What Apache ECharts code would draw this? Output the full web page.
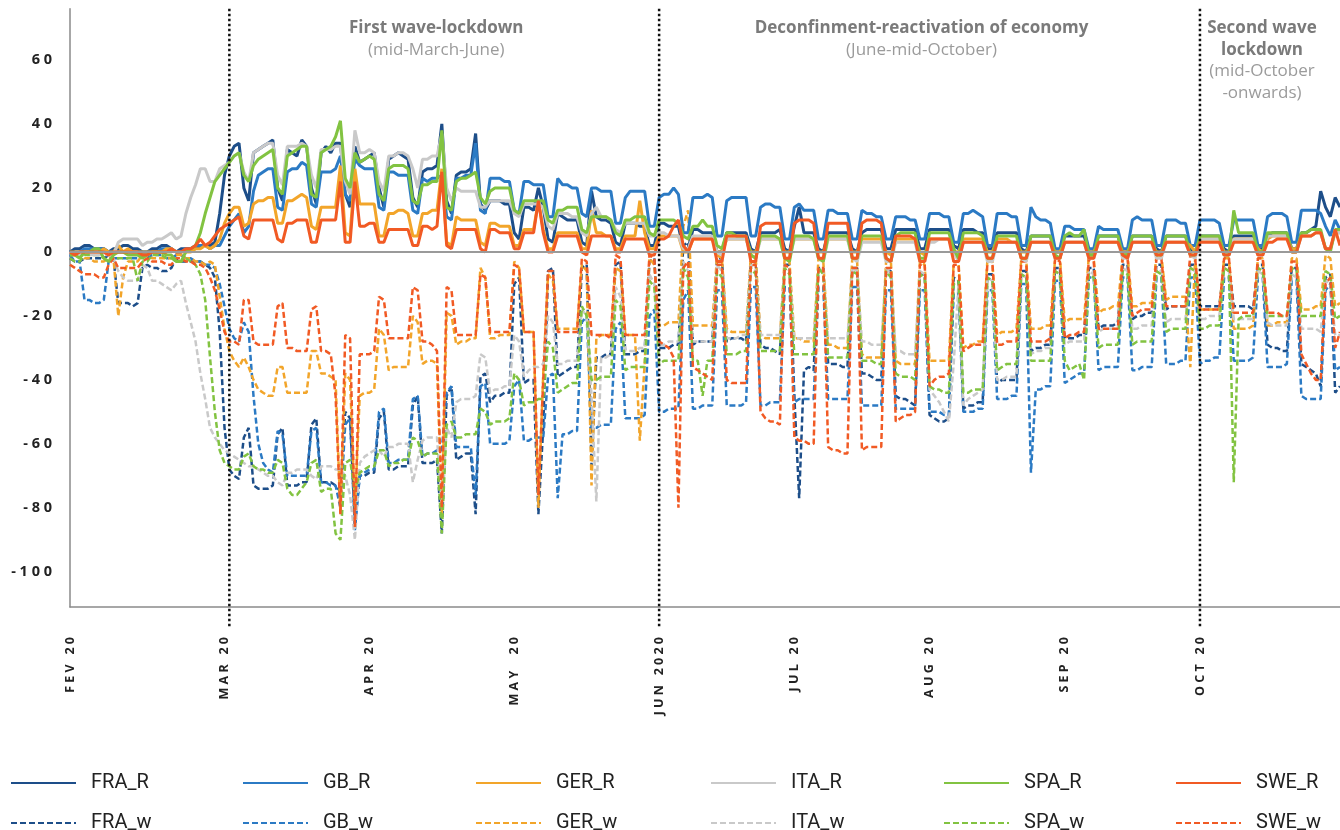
<!DOCTYPE html>
<html><head><meta charset="utf-8">
<script src="https://cdn.jsdelivr.net/npm/echarts@6/dist/echarts.min.js"></script>
<style>html,body{margin:0;padding:0;background:#fff}#c{width:1340px;height:830px}</style>
</head><body><div id="c"></div>
<script>
// ---------------- DATA ----------------
const START_DATE = '2020-02-14';

const FRA_R = [0,1,1,
2,2,1,1,1,0,1, 1,2,2,1,1,0,0, 1,1,2,2,1,0,1, 1,1,1,2,2,2,3,
12,24,30,33,34,20,16, 31,32,33,34,35,20,16, 32,31,30,35,33,20,15, 31,33,31,34,34,18,14,
33,28,29,30,31,20,14, 29,30,31,30,29,17,14, 25,26,26,27,40,16,12, 24,25,25,26,37,15,13,
16,16,16,15,15,6,4, 14,14,13,20,14,4,3, 12,11,10,10,10,3,2, 19,11,10,10,9,3,2,
9,9,9,8,8,2,2, 9,9,8,8,8,1,1, 7,7,6,6,6,0,0, 6,6,6,6,6,1,0,
6,6,6,6,7,1,0, 8,14,6,6,6,1,0, 6,6,6,6,6,1,0, 6,7,7,7,7,1,1,
7,7,7,7,7,1,1, 7,7,7,7,7,2,1, 7,7,7,6,6,1,1, 6,6,6,6,6,1,0,
5,5,5,5,5,0,0, 5,5,5,5,5,0,0, 5,5,5,5,5,0,0, 5,5,5,5,5,1,0,
5,5,5,5,5,1,0, 5,5,5,5,5,1,0, 5,5,5,5,5,1,1, 5,6,6,6,6,1,1,
6,6,7,8,19,14,11,
17,14];

const GB_R = [-1,0,0,
1,1,1,1,1,0,0, 0,0,0,0,0,0,0, 0,0,1,1,1,0,0, 1,1,2,2,2,1,2,
2,5,8,10,12,6,8, 19,24,25,26,26,14,13, 25,26,26,28,27,15,14, 25,25,25,26,30,18,16,
29,27,26,26,26,14,13, 25,25,24,24,24,13,12, 23,22,23,23,24,11,10, 23,23,24,24,34,13,12,
23,23,23,22,22,13,12, 22,22,21,21,21,11,11, 23,21,21,20,20,12,11, 20,20,19,19,19,9,9,
17,19,19,19,19,8,8, 17,18,18,20,18,6,6, 17,17,17,18,17,5,5, 16,17,17,17,17,5,5,
14,15,15,14,14,4,4, 14,15,13,13,13,4,4, 13,13,12,12,12,4,4, 13,12,12,11,11,4,4,
11,11,11,10,10,4,4, 12,12,12,11,11,3,3, 12,12,13,12,11,2,2, 12,12,12,11,11,2,2,
14,11,10,10,9,1,1, 8,8,7,7,7,1,1, 8,7,7,7,7,1,1, 10,11,10,10,10,2,2,
10,10,10,9,9,2,2, 10,10,10,10,9,2,2, 10,10,10,10,10,2,2, 11,12,12,12,11,3,3,
13,13,13,13,12,8,5,
10,7];

const GER_R = [0,0,0,
0,0,0,0,1,0,0, 2,0,1,0,0,0,0, 0,0,0,1,1,0,0, 0,0,1,1,2,1,2,
4,9,12,14,14,8,9, 15,16,16,17,17,9,9, 16,16,17,18,17,8,7, 14,14,14,14,27,6,5,
26,15,15,15,15,5,5, 12,12,13,13,12,5,5, 12,12,13,13,26,3,2, 11,10,10,10,10,3,2,
9,9,8,8,8,2,2, 7,7,7,16,7,1,1, 6,6,6,6,6,1,1, 13,6,6,5,5,1,1,
5,5,5,16,6,1,1, 5,5,5,5,5,0,0, 4,4,4,4,4,0,0, 4,4,4,4,4,0,0,
4,4,4,4,4,0,0, 4,4,4,4,4,0,0, 4,4,4,4,4,0,0, 4,4,4,4,4,0,-1,
4,4,4,4,4,0,-1, 4,4,4,4,4,0,0, 4,4,4,4,4,0,0, 4,4,4,3,3,0,0,
3,3,3,3,3,0,0, 3,3,3,3,3,0,0, 3,3,3,3,3,0,0, 3,3,3,3,3,0,0,
3,3,3,3,3,2,0, 4,4,4,4,4,0,0, 4,4,4,4,4,1,0, 4,5,5,5,5,1,1,
5,5,5,6,6,1,1,
6,6];

const ITA_R = [0,-1,-1,
0,0,-1,-1,0,-1,-1, 3,4,4,4,4,2,3, 3,4,4,5,6,4,5, 12,17,21,26,26,22,22,
26,27,28,30,31,25,22, 31,32,33,34,34,24,21, 33,33,33,34,33,24,20, 32,32,32,33,33,22,18,
38,31,31,32,31,22,19, 30,30,31,31,30,26,20, 29,29,30,30,37,20,16, 20,19,19,19,19,14,14,
16,16,16,16,16,12,11, 15,15,15,15,14,8,7, 12,12,12,11,11,6,5, 12,14,11,11,10,7,6,
9,9,9,9,9,5,5, 6,6,5,5,5,1,1, 5,5,5,5,5,0,-1, 4,4,4,4,4,-1,-2,
4,4,4,4,4,-2,-2, 4,4,4,4,4,-2,-3, 4,4,4,4,4,-2,-3, 3,3,3,3,3,-3,-3,
3,3,3,3,3,-3,-3, 3,3,4,4,4,0,-3, 3,3,3,3,3,-3,-3, 3,3,3,3,3,-2,-3,
3,3,3,3,3,-2,-2, 3,3,3,3,3,-2,-2, 3,3,3,3,3,-2,-2, 3,3,3,3,3,-2,-2,
3,3,3,3,3,-1,-2, 4,4,4,4,4,-1,-1, 4,4,4,4,4,-1,-1, 5,5,5,5,5,0,0,
5,5,5,6,6,1,1,
6,6];

const SPA_R = [-1,-1,-2,
0,0,1,1,-2,-3,-1, 0,0,-1,-1,-1,-2,-1, 0,0,0,-1,-1,-3,-3, 0,1,2,6,12,17,22,
24,26,28,30,31,24,22, 27,29,30,31,32,20,18, 30,31,32,33,33,18,17, 31,32,33,36,41,23,20,
31,28,29,30,29,18,16, 26,27,27,27,26,16,15, 21,21,22,22,38,14,13, 22,23,23,24,25,17,15,
19,20,20,20,20,13,12, 16,16,16,16,16,10,9, 13,13,14,14,14,7,6, 11,11,11,11,10,6,5,
10,10,11,11,11,6,5, 10,10,10,10,9,5,4, 8,8,10,8,8,2,1, 6,6,5,5,5,-1,-2,
5,5,5,5,4,-2,-3, 5,5,5,5,4,-2,-3, 5,5,5,5,5,-2,-2, 5,5,5,5,5,-2,-3,
5,6,6,6,6,-2,-2, 6,6,6,6,6,1,-2, 6,6,6,6,5,-2,-2, 5,5,5,5,5,-2,-2,
5,5,5,5,5,-1,-2, 5,6,5,5,7,-1,-1, 5,5,5,5,5,-1,-1, 5,5,5,5,5,-1,-1,
5,5,5,5,5,-1,-1, 5,5,5,5,5,-1,-1, 13,6,6,6,6,0,0, 6,6,6,6,6,0,0,
6,6,7,7,7,1,0,
7,7];

const SWE_R = [0,-1,0,
0,0,0,0,0,-1,0, 0,0,0,0,0,-1,-1, 0,0,0,0,1,0,0, 1,1,2,4,2,3,5,
7,8,9,10,11,5,4, 10,10,10,10,10,4,3, 9,9,10,10,10,3,3, 10,10,10,10,22,3,3,
22,8,8,9,9,3,3, 7,7,7,7,7,2,2, 8,8,7,8,25,2,1, 7,7,7,7,7,1,0,
7,7,6,6,6,1,1, 6,6,6,16,6,0,0, 5,5,5,5,5,0,-1, 5,5,5,5,5,0,0,
4,4,4,4,4,-1,-1, 4,4,5,8,10,2,0, 4,4,4,4,4,-3,-3, 5,5,5,5,5,-3,-3,
8,9,9,9,9,-2,-2, 9,10,10,10,9,-2,-2, 9,9,9,9,9,-2,-2, 9,10,10,10,9,-2,-3,
5,5,5,5,4,-3,-3, 4,4,4,4,4,-3,-3, 3,3,3,3,3,-2,-2, 3,3,3,3,3,-2,-2,
3,3,3,3,3,-2,-2, 3,3,3,3,3,-2,-2, 3,3,3,3,3,-1,-2, 3,3,3,3,3,-1,-1,
3,3,3,3,3,-1,-1, 3,3,3,3,3,-1,-1, 3,3,3,3,3,-1,-1, 3,3,4,4,4,0,0,
5,5,5,6,6,1,1,
7,2];

const FRA_w = [-2,-3,-3,
-2,-2,-2,-2,-2,-1,-2, -16,-16,-16,-17,-16,-5,-4, -5,-5,-6,-6,-5,-2,-3, -3,-3,-3,-3,-4,-5,-8,
-25,-55,-68,-70,-71,-58,-55, -73,-74,-74,-74,-73,-57,-55, -73,-73,-73,-72,-72,-54,-52, -72,-72,-72,-73,-75,-50,-52,
-85,-70,-70,-69,-69,-52,-50, -68,-68,-67,-67,-67,-48,-45, -66,-66,-66,-65,-88,-45,-42, -65,-64,-63,-63,-82,-39,-38,
-47,-45,-45,-44,-44,-10,-8, -41,-40,-40,-82,-55,-6,-5, -39,-38,-37,-36,-36,-5,-4, -67,-33,-33,-32,-32,-4,-3,
-32,-32,-32,-31,-31,-3,-2, -30,-30,-30,-29,-29,2,3, -29,-28,-28,-28,-28,-2,-2, -28,-27,-27,-27,-28,-3,-3,
-29,-30,-30,-31,-32,-4,-4, -45,-77,-37,-36,-37,-5,-5, -35,-35,-35,-36,-36,-5,-5, -38,-38,-39,-40,-40,-6,-6,
-45,-46,-46,-47,-48,-7,-7, -51,-52,-53,-53,-52,-8,-9, -49,-48,-48,-47,-47,-7,-7, -41,-40,-40,-40,-40,-6,-6,
-31,-30,-30,-29,-29,-5,-5, -27,-27,-27,-26,-26,-5,-5, -24,-23,-23,-23,-22,-4,-4, -21,-20,-20,-19,-19,-4,-4,
-18,-17,-17,-17,-17,-4,-4, -17,-17,-17,-17,-17,-4,-4, -17,-17,-17,-17,-18,-4,-4, -29,-30,-30,-31,-31,-5,-5,
-35,-36,-37,-38,-42,-8,-7,
-44,-42];

const GB_w = [-1,-3,-3,
-15,-15,-16,-16,-15,-3,-2, -2,-2,-2,-2,-2,-1,-2, -1,-1,-1,-2,-2,-1,-1, -2,-2,-3,-3,-4,-4,-5,
-10,-17,-24,-27,-28,-22,-25, -45,-60,-66,-68,-69,-56,-57, -70,-70,-70,-70,-70,-56,-55, -72,-72,-73,-73,-80,-54,-52,
-87,-70,-69,-68,-68,-50,-49, -66,-66,-65,-65,-65,-46,-45, -64,-63,-63,-62,-62,-44,-42, -61,-61,-61,-61,-76,-42,-41,
-60,-60,-60,-60,-59,-42,-40, -59,-59,-58,-58,-58,-39,-38, -77,-57,-57,-56,-56,-22,-20, -55,-55,-54,-54,-54,-24,-22,
-52,-52,-52,-52,-51,-20,-18, -50,-50,-49,-49,-49,-15,-12, -49,-49,-48,-48,-48,-12,-12, -48,-48,-48,-48,-47,-11,-11,
-48,-48,-47,-47,-47,-11,-11, -47,-46,-46,-46,-46,-11,-11, -46,-46,-46,-46,-46,-11,-11, -48,-48,-48,-48,-48,-12,-12,
-49,-49,-49,-49,-49,-12,-12, -50,-50,-50,-51,-51,-13,-13, -50,-50,-50,-49,-49,-12,-12, -46,-46,-46,-45,-45,-10,-10,
-69,-43,-43,-42,-42,-9,-9, -41,-40,-39,-38,-38,-8,-8, -37,-36,-36,-36,-36,-8,-8, -37,-37,-36,-36,-36,-8,-8,
-35,-35,-35,-34,-34,-8,-8, -35,-34,-34,-33,-33,-8,-8, -34,-34,-34,-34,-33,-8,-8, -36,-36,-36,-36,-35,-9,-9,
-45,-46,-46,-46,-46,-12,-10,
-37,-36];

const GER_w = [-1,-1,0,
-2,-2,-3,-3,-3,-2,-2, -20,-8,-3,-3,-3,-1,-1, -2,-2,-2,-2,-2,-1,-1, -2,-2,-3,-3,-4,-3,-4,
-14,-24,-31,-34,-36,-33,-36, -40,-43,-44,-45,-45,-36,-36, -44,-44,-44,-44,-44,-31,-31, -38,-38,-39,-40,-82,-38,-40,
-80,-45,-44,-44,-43,-24,-26, -37,-36,-36,-36,-36,-20,-22, -35,-34,-34,-35,-82,-19,-20, -29,-28,-28,-27,-27,-5,-8,
-27,-27,-26,-26,-26,-3,-5, -25,-25,-25,-80,-38,-7,-9, -24,-24,-24,-24,-24,-4,-6, -73,-27,-26,-26,-26,-5,-6,
-26,-26,-26,-59,-35,-2,-4, -23,-23,-22,-22,-22,8,13, -23,-23,-23,-23,-23,-1,-2, -24,-25,-25,-25,-25,-1,-2,
-26,-27,-27,-27,-27,-2,-3, -27,-27,-28,-28,-28,-2,-3, -29,-29,-30,-30,-30,-2,-3, -32,-33,-33,-33,-33,-3,-3,
-34,-35,-35,-35,-35,-3,-4, -34,-34,-34,-34,-34,-3,-3, -30,-29,-29,-28,-28,-2,-3, -26,-25,-25,-25,-24,-2,-2,
-24,-24,-24,-23,-23,-2,-2, -22,-21,-21,-21,-21,-1,-2, -19,-18,-18,-17,-17,-1,-1, -17,-17,-16,-16,-16,-1,-1,
-15,-14,-14,-14,-14,-36,-2, -18,-18,-18,-18,-18,-2,-2, -24,-24,-24,-24,-23,-2,-2, -23,-23,-22,-22,-22,-2,-2,
-18,-18,-18,-17,-17,-1,-2,
-17,-16];

const ITA_w = [0,-1,-1,
-1,-1,-1,-1,-1,-1,-2, -6,-8,-9,-9,-9,-4,-5, -9,-9,-10,-11,-12,-10,-9, -16,-22,-28,-38,-46,-55,-58,
-60,-62,-63,-64,-65,-66,-67, -67,-68,-69,-70,-70,-72,-73, -69,-69,-68,-68,-68,-70,-71, -67,-67,-67,-68,-68,-70,-76,
-90,-66,-64,-63,-62,-62,-64, -61,-61,-60,-60,-60,-72,-65, -59,-58,-58,-58,-80,-55,-58, -47,-46,-46,-46,-45,-32,-33,
-44,-43,-43,-42,-42,-26,-28, -39,-37,-36,-36,-35,-20,-22, -35,-35,-34,-34,-34,-18,-20, -45,-78,-33,-33,-32,-11,-14,
-31,-31,-31,-30,-30,-7,-10, -29,-29,-28,-28,-28,-3,-6, -28,-28,-28,-28,-28,-4,-6, -27,-27,-27,-26,-26,-4,-6,
-26,-26,-26,-26,-26,-4,-6, -27,-27,-27,-27,-27,-5,-6, -27,-27,-27,-27,-27,-5,-6, -28,-28,-29,-29,-29,-5,-7,
-31,-31,-32,-32,-32,-6,-7, -43,-45,-47,-50,-53,-35,-10, -48,-46,-45,-44,-43,-8,-9, -40,-40,-39,-39,-39,-7,-8,
-32,-31,-31,-30,-30,-6,-7, -29,-28,-28,-28,-28,-6,-7, -25,-24,-24,-24,-24,-5,-6, -24,-24,-23,-23,-23,-5,-6,
-22,-21,-21,-21,-21,-5,-6, -21,-21,-20,-20,-20,-5,-6, -21,-21,-21,-21,-21,-6,-7, -22,-23,-23,-23,-23,-7,-8,
-24,-24,-24,-24,-25,-9,-10,
-26,-26];

const SPA_w = [-2,-3,-3,
-1,-1,-1,-1,-2,-3,-2, -2,-2,-2,-2,-9,-3,-3, -1,-1,-1,-2,-2,-3,-3, -2,-3,-4,-7,-15,-33,-50,
-62,-66,-67,-68,-68,-64,-63, -67,-68,-68,-69,-69,-65,-66, -74,-76,-76,-74,-72,-66,-65, -75,-74,-74,-88,-90,-66,-65,
-75,-69,-68,-67,-67,-62,-62, -67,-66,-66,-65,-65,-58,-59, -64,-63,-63,-63,-88,-54,-53, -58,-58,-57,-57,-57,-49,-50,
-54,-53,-53,-53,-52,-38,-40, -48,-47,-47,-46,-46,-28,-30, -44,-43,-42,-41,-41,-17,-20, -40,-40,-39,-39,-39,-15,-17,
-37,-36,-36,-36,-36,-9,-11, -35,-34,-34,-34,-34,-5,-8, -34,-34,-45,-34,-34,-6,-8, -32,-32,-32,-31,-31,-5,-7,
-31,-31,-31,-31,-31,-5,-7, -32,-32,-32,-32,-32,-5,-7, -33,-33,-33,-33,-33,-6,-7, -34,-34,-34,-35,-35,-6,-8,
-38,-39,-39,-39,-40,-7,-8, -42,-43,-43,-44,-44,-10,-9, -44,-44,-43,-43,-43,-8,-9, -37,-36,-35,-35,-35,-7,-8,
-34,-34,-34,-34,-34,-6,-7, -34,-37,-36,-35,-40,-7,-8, -30,-29,-29,-29,-29,-6,-7, -29,-28,-28,-28,-28,-6,-7,
-25,-24,-24,-24,-24,-5,-6, -24,-24,-23,-23,-23,-5,-6, -72,-21,-20,-20,-20,-5,-6, -20,-20,-20,-20,-20,-5,-6,
-20,-20,-20,-20,-20,-6,-7,
-21,-20];

const SWE_w = [-4,-5,-6,
-7,-7,-7,-8,-8,-4,-2, -5,-5,-5,-5,-5,-3,-2, -3,-3,-3,-4,-4,-2,-2, -3,-3,-4,-4,-5,-8,-12,
-18,-25,-28,-28,-29,-15,-15, -28,-29,-29,-29,-29,-17,-16, -30,-30,-31,-31,-31,-18,-17, -31,-31,-32,-45,-82,-26,-27,
-86,-32,-32,-32,-31,-14,-15, -27,-27,-27,-27,-27,-11,-12, -28,-28,-29,-31,-80,-11,-12, -26,-26,-26,-26,-26,-7,-8,
-25,-25,-25,-25,-25,-4,-5, -25,-25,-25,-76,-40,-6,-6, -25,-25,-25,-25,-25,-2,-3, -26,-26,-26,-26,-27,-1,-2,
-26,-26,-26,-26,-26,-1,-2, -28,-29,-30,-33,-80,-5,-3, -36,-37,-38,-39,-40,-4,-4, -40,-41,-41,-41,-41,-4,-4,
-50,-52,-53,-53,-54,-4,-5, -58,-59,-59,-60,-60,-5,-5, -61,-62,-62,-63,-63,-5,-5, -62,-61,-61,-61,-61,-5,-5,
-53,-52,-51,-51,-50,-4,-4, -42,-40,-39,-39,-38,-4,-4, -31,-30,-29,-29,-29,-3,-3, -29,-29,-28,-28,-28,-3,-3,
-28,-28,-28,-28,-27,-2,-3, -27,-26,-26,-25,-25,-2,-3, -24,-24,-24,-24,-24,-2,-2, -20,-19,-18,-18,-18,-2,-2,
-17,-17,-17,-17,-17,-1,-2, -18,-18,-18,-18,-18,-2,-2, -19,-19,-19,-19,-19,-2,-2, -19,-19,-19,-20,-20,-3,-3,
-32,-35,-38,-40,-40,-10,-8,
-30,-25];

const TICK_DATES = ['2020-02-14','2020-03-17','2020-04-16','2020-05-16','2020-06-15','2020-07-13','2020-08-10','2020-09-07','2020-10-05'];
const TICK_TEXT  = ['FEV 20','MAR 20','APR 20','MAY  20','JUN 2020','JUL 20','AUG 20','SEP 20','OCT 20'];
const Y_LABELS   = [60, 40, 20, 0, -20, -40, -60, -80, -100];
const EVENT_DATES = ['2020-03-18','2020-06-15','2020-10-05'];
const PERIOD_TITLES = [['First wave-lockdown'], ['Deconfinment-reactivation of economy'], ['Second wave', 'lockdown']];
const PERIOD_NOTES  = [['(mid-March-June)'], ['(June-mid-October)'], ['(mid-October', '-onwards)']];

// ---------------- BUILD ----------------
const COUNTRIES = [
  {name: 'FRA', color: '#1d4e89', R: FRA_R, w: FRA_w},
  {name: 'GB',  color: '#2b7ac4', R: GB_R,  w: GB_w},
  {name: 'GER', color: '#f2a52a', R: GER_R, w: GER_w},
  {name: 'ITA', color: '#c9c9c9', R: ITA_R, w: ITA_w},
  {name: 'SPA', color: '#82c341', R: SPA_R, w: SPA_w},
  {name: 'SWE', color: '#f15a24', R: SWE_R, w: SWE_w}
];
const N = FRA_R.length;
COUNTRIES.forEach(c => {
  if (c.R.length !== N || c.w.length !== N) throw new Error('length mismatch ' + c.name + ' ' + c.R.length + ' ' + c.w.length);
});
const startMs = Date.parse(START_DATE + 'T00:00:00Z');
const categories = [];
for (let i = 0; i < N; i++) categories.push(new Date(startMs + i * 86400000).toISOString().slice(0, 10));

const spaced = s => s.split('').join(' ');
const FONT = 'Open Sans';

const series = [];
COUNTRIES.forEach((c, i) => {
  series.push({
    type: 'line', name: c.name + '_w', data: c.w, symbol: 'none', z: 2,
    lineStyle: {color: c.color, width: 2.5, type: [6, 3]},
    itemStyle: {color: c.color},
    emphasis: {disabled: true},
    markLine: i === 0 ? {
      silent: true, symbol: ['none', 'none'], label: {show: false},
      lineStyle: {color: '#9a9a9a', width: 2, type: 'solid'},
      data: [{yAxis: 0}], animation: false
    } : undefined
  });
});
COUNTRIES.forEach(c => {
  series.push({
    type: 'line', name: c.name + '_R', data: c.R, symbol: 'none', z: 3,
    lineStyle: {color: c.color, width: 3, type: 'solid'},
    itemStyle: {color: c.color},
    emphasis: {disabled: true}
  });
});

const LEG_LEFT = [10, 242, 475, 710, 943, 1175];
const legends = COUNTRIES.map((c, i) => ({
  data: [c.name + '_R', c.name + '_w'],
  orient: 'vertical', left: LEG_LEFT[i], top: 773, height: 90, width: 200, padding: 0,
  itemWidth: 65, itemHeight: 14, itemGap: 20, selectedMode: false,
  itemStyle: {color: 'transparent', borderWidth: 0, borderColor: 'transparent'},
  textStyle: {fontSize: 20, color: '#222', fontFamily: 'Roboto', padding: [0, 0, 0, 10], lineHeight: 20}
}));

const option = {
  animation: false,
  backgroundColor: '#ffffff',
  grid: {left: 70, right: 0, top: 8.8, bottom: 223, containLabel: false},
  legend: legends,
  xAxis: {
    type: 'category', data: categories, boundaryGap: false,
    axisLine: {onZero: false, lineStyle: {color: '#8a8a8a', width: 1.5}},
    axisTick: {show: false}, splitLine: {show: false},
    axisLabel: {
      interval: (idx, val) => TICK_DATES.indexOf(val) >= 0,
      formatter: val => { const k = TICK_DATES.indexOf(val); return k < 0 ? '' : spaced(TICK_TEXT[k]); },
      rotate: 90, margin: 30, fontFamily: FONT, fontWeight: 'bold', fontSize: 12.5, color: '#222'
    }
  },
  yAxis: {
    type: 'value', min: -111, max: 76, interval: 1,
    axisLine: {show: true, lineStyle: {color: '#8a8a8a', width: 1.5}},
    axisTick: {show: false}, splitLine: {show: false},
    axisLabel: {
      formatter: v => Y_LABELS.indexOf(v) >= 0 ? spaced(String(v)) : '',
      fontFamily: FONT, fontWeight: 'bold', fontSize: 14.5, color: '#222', margin: 18
    }
  },
  series: series
};

const chart = echarts.init(document.getElementById('c'), null, {renderer: 'canvas'});
chart.setOption(option);

// annotations positioned through the axes
const xs = EVENT_DATES.map(d => chart.convertToPixel({xAxisIndex: 0}, d));
const xEnd = chart.convertToPixel({xAxisIndex: 0}, categories[N - 1]);
const yTop = chart.convertToPixel({yAxisIndex: 0}, 76);
const yBot = chart.convertToPixel({yAxisIndex: 0}, -111);
const graphics = [];
xs.forEach(x => {
  graphics.push({
    type: 'line', z: 100, silent: true,
    shape: {x1: x, y1: yTop, x2: x, y2: yBot + 20},
    style: {stroke: '#111', lineWidth: 2.5, lineDash: [2.5, 2.5]}
  });
});
const bounds = [xs[0], xs[1], xs[2], xEnd];
for (let i = 0; i < 3; i++) {
  const cx = (bounds[i] + bounds[i + 1]) / 2 - 8;
  let y = 28;
  PERIOD_TITLES[i].forEach(t => {
    graphics.push({type: 'text', z: 100, silent: true, x: cx, y: y,
      style: {text: t, align: 'center', verticalAlign: 'middle', fontFamily: FONT, fontWeight: 'bold', fontSize: 17, fill: '#7a7a7a'}});
    y += 21.7;
  });
  PERIOD_NOTES[i].forEach(t => {
    graphics.push({type: 'text', z: 100, silent: true, x: cx, y: y,
      style: {text: t, align: 'center', verticalAlign: 'middle', fontFamily: FONT, fontWeight: 'normal', fontSize: 17, fill: '#9b9b9b'}});
    y += 21.7;
  });
}
chart.setOption({graphic: graphics});
</script>
</body></html>
